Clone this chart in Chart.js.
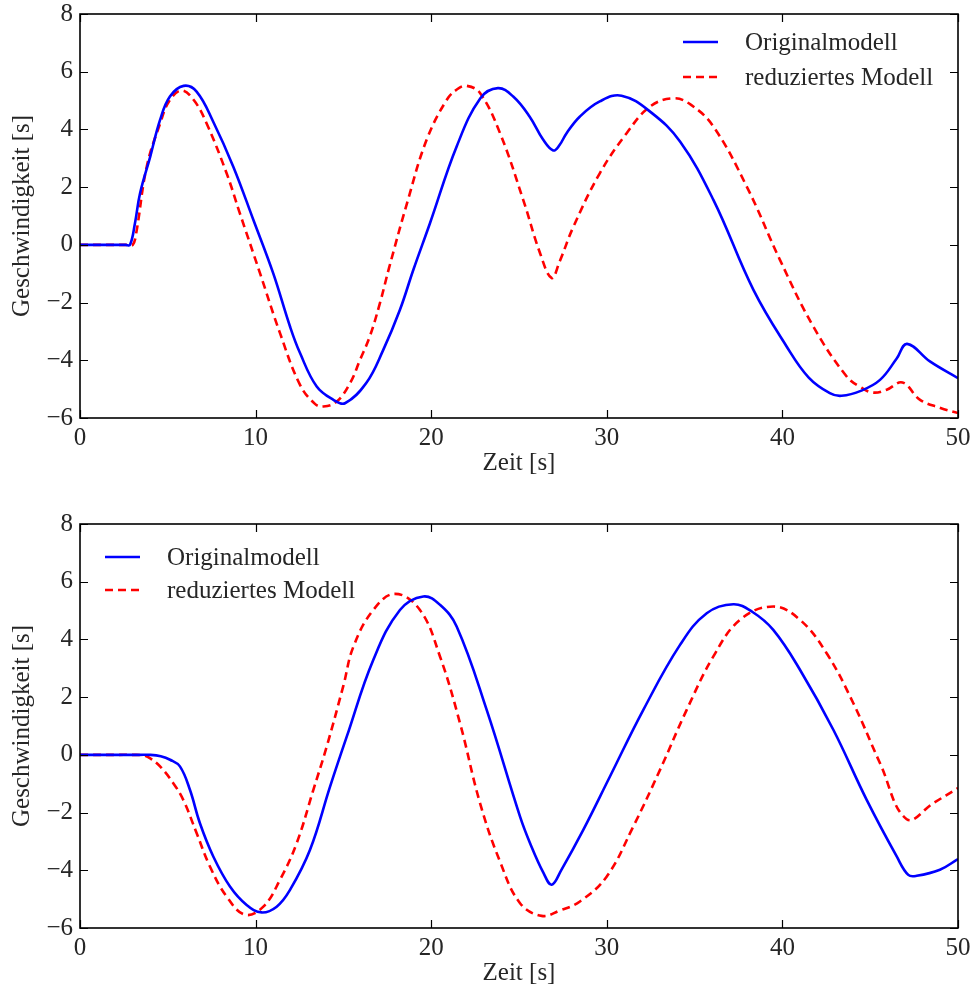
<!DOCTYPE html>
<html>
<head>
<meta charset="utf-8">
<script src="https://cdn.jsdelivr.net/npm/chart.js@4.4.0/dist/chart.umd.min.js"></script>
<style>
  html, body { margin: 0; padding: 0; background: #ffffff; }
  #wrap { position: relative; width: 977px; height: 990px; }
  .panel { position: absolute; left: 0; width: 977px; }
  #p1 { top: 0; height: 490px; }
  #p2 { top: 490px; height: 500px; }
</style>
</head>
<body>
<div id="wrap">
  <div class="panel" id="p1"><canvas id="c1" width="977" height="490"></canvas></div>
  <div class="panel" id="p2"><canvas id="c2" width="977" height="500"></canvas></div>
</div>
<script>
// Labels and ticks
const seriesNames = ['Originalmodell', 'reduziertes Modell'];
const xTitle = 'Zeit [s]';
const yTitle = 'Geschwindigkeit [s]';
const xTickValues = [0, 10, 20, 30, 40, 50];
const yTickValues = [-6, -4, -2, 0, 2, 4, 6, 8];

// Upper panel: original model
const topOrigTime  = [0, 1.5, 2.6, 2.85, 3.13, 3.42, 4.0, 4.56, 5.12, 5.9, 6.64, 7.6, 8.73, 9.87, 11.0, 11.96, 12.53, 13.48, 14.43, 15.09, 16.3, 17.27, 18.22, 18.98, 19.93, 21.45, 22.8, 23.8, 24.67, 25.6, 26.38, 26.95, 27.3, 27.71, 28.47, 29.6, 30.84, 32.5, 34.17, 36.07, 38.35, 40.24, 41.5, 42.7, 43.37, 44.5, 45.56, 46.5, 47.1, 48.4, 50];
const topOrigValue = [0, 0, 0, 0, 0.75, 1.79, 3.06, 4.33, 5.14, 5.51, 5.31, 4.25, 2.71, 0.87, -0.98, -2.83, -3.75, -4.91, -5.37, -5.49, -4.79, -3.64, -2.25, -0.87, 0.75, 3.41, 5.08, 5.43, 5.14, 4.45, 3.64, 3.27, 3.45, 3.87, 4.45, 4.97, 5.17, 4.6, 3.58, 1.56, -1.56, -3.52, -4.6, -5.14, -5.23, -5.05, -4.68, -3.95, -3.43, -4.04, -4.62];

// Upper panel: reduced model
const topRedTime  = [0, 1.5, 2.7, 3.0, 3.2, 3.8, 4.56, 5.1, 5.79, 6.5, 7.2, 8.35, 9.1, 10.25, 11.39, 12.53, 13.38, 13.86, 14.62, 15.38, 15.95, 16.5, 17.08, 17.6, 18.65, 19.74, 20.88, 21.5, 22.02, 22.78, 23.92, 25.24, 26.2, 26.86, 27.3, 28.1, 29.6, 31.13, 32.46, 33.79, 34.8, 36.07, 37.97, 39.86, 41.76, 43.66, 44.5, 45.18, 45.94, 46.84, 47.84, 49.0, 50];
const topRedValue = [0, 0, 0, 0, 0.4, 2.71, 4.2, 5.0, 5.35, 5.0, 4.22, 2.48, 1.1, -0.98, -3.06, -4.85, -5.51, -5.6, -5.43, -4.79, -3.98, -3.18, -2.02, -0.8, 1.5, 3.64, 5.02, 5.4, 5.51, 5.26, 3.87, 1.56, -0.29, -1.15, -0.6, 0.63, 2.48, 3.87, 4.79, 5.08, 4.85, 4.1, 2.02, -0.52, -2.83, -4.56, -4.95, -5.12, -5.02, -4.77, -5.37, -5.65, -5.83];

// Lower panel: original model
const botOrigTime  = [0, 2.0, 3.4, 4.0, 4.6, 5.13, 5.69, 6.26, 6.83, 7.59, 8.54, 9.49, 10.34, 11.2, 11.96, 13.1, 14.24, 15.19, 16.7, 18.22, 19.55, 20.5, 21.45, 23.16, 25.06, 25.63, 26.4, 26.86, 27.4, 28.66, 30.18, 32.08, 34.17, 35.69, 37.21, 38.3, 39.48, 41.0, 42.9, 44.8, 46.51, 47.17, 47.65, 48.97, 50];
const botOrigValue = [0, 0, 0, 0, -0.05, -0.17, -0.4, -1.21, -2.37, -3.52, -4.56, -5.2, -5.46, -5.26, -4.68, -3.29, -1.1, 0.63, 3.29, 5.02, 5.49, 5.2, 4.45, 1.56, -2.14, -3.06, -4.1, -4.5, -4.0, -2.6, -0.75, 1.56, 3.81, 4.91, 5.22, 4.95, 4.33, 2.95, 0.87, -1.56, -3.52, -4.16, -4.19, -3.98, -3.61];

// Lower panel: reduced model
const botRedTime  = [0, 2.0, 3.0, 3.6, 4.0, 4.56, 5.31, 5.88, 6.64, 7.4, 8.35, 9.4, 10.44, 11.39, 12.34, 13.29, 14.05, 15.0, 15.57, 16.7, 17.94, 19.36, 20.5, 21.64, 22.78, 23.92, 25.06, 26.29, 27.3, 28.47, 29.99, 31.51, 33.03, 34.55, 36.07, 37.59, 39.48, 41.0, 42.52, 44.04, 45.56, 47.08, 48.6, 50];
const botRedValue = [0, 0, 0, -0.02, -0.12, -0.4, -0.98, -1.56, -2.71, -3.87, -4.91, -5.54, -5.26, -4.33, -3.06, -1.21, 0.29, 2.4, 3.75, 5.02, 5.58, 5.02, 3.41, 1.1, -1.67, -3.7, -5.14, -5.58, -5.4, -5.08, -4.22, -2.48, -0.52, 1.56, 3.41, 4.68, 5.14, 4.68, 3.52, 1.79, -0.29, -2.23, -1.67, -1.15];

const FONT_FAMILY = '"Liberation Serif", "DejaVu Serif", serif';
const TEXT_COLOR = '#262626';
const BASE_FONT = { family: FONT_FAMILY, size: 25 };

function toPoints(times, values) {
  return times.map((t, i) => ({ x: t, y: values[i] }));
}

function fmtTick(v) {
  return String(v).replace('-', '\u2212');
}

// Frame around the plot area with inward tick marks on all four sides
const frameTicks = {
  id: 'frameTicks',
  afterDatasetsDraw(chart) {
    const { ctx, chartArea: a, scales: { x, y } } = chart;
    const len = 8;
    ctx.save();
    ctx.strokeStyle = '#000000';
    ctx.lineWidth = 1.2;
    ctx.beginPath();
    xTickValues.forEach(v => {
      const px = Math.round(x.getPixelForValue(v)) + 0.5;
      ctx.moveTo(px, a.bottom); ctx.lineTo(px, a.bottom - len);
      ctx.moveTo(px, a.top); ctx.lineTo(px, a.top + len);
    });
    yTickValues.forEach(v => {
      const py = Math.round(y.getPixelForValue(v)) + 0.5;
      ctx.moveTo(a.left, py); ctx.lineTo(a.left + len, py);
      ctx.moveTo(a.right, py); ctx.lineTo(a.right - len, py);
    });
    ctx.stroke();
    ctx.lineWidth = 1.6;
    ctx.strokeRect(a.left, a.top, a.right - a.left, a.bottom - a.top);
    ctx.restore();
  }
};

// Legend drawn inside the plot area
const innerLegend = {
  id: 'innerLegend',
  afterDraw(chart, args, opts) {
    const { ctx, chartArea: a } = chart;
    const base = opts.anchor === 'right' ? a.right : a.left;
    ctx.save();
    chart.data.datasets.forEach((ds, i) => {
      const yy = a.top + opts.rows[i];
      ctx.beginPath();
      ctx.strokeStyle = ds.borderColor;
      ctx.lineWidth = ds.borderWidth;
      ctx.setLineDash(ds.borderDash || []);
      ctx.moveTo(base + opts.lineStart, yy);
      ctx.lineTo(base + opts.lineEnd, yy);
      ctx.stroke();
      ctx.setLineDash([]);
      ctx.fillStyle = TEXT_COLOR;
      ctx.font = `${BASE_FONT.size}px ${FONT_FAMILY}`;
      ctx.textAlign = 'left';
      ctx.textBaseline = 'middle';
      ctx.fillText(ds.label, base + opts.textStart, yy + 1);
    });
    ctx.restore();
  }
};

function makeChart(canvasId, orig, red, cfg) {
  const ctx = document.getElementById(canvasId).getContext('2d');
  return new Chart(ctx, {
    type: 'line',
    data: {
      datasets: [
        {
          label: seriesNames[0],
          data: orig,
          borderColor: '#0000ff',
          borderWidth: 2.6,
          pointRadius: 0,
          tension: 0.4,
          fill: false
        },
        {
          label: seriesNames[1],
          data: red,
          borderColor: '#ff0000',
          borderWidth: 2.6,
          borderDash: [8, 5],
          borderCapStyle: 'butt',
          pointRadius: 0,
          tension: 0.4,
          fill: false
        }
      ]
    },
    options: {
      responsive: false,
      animation: false,
      events: [],
      layout: { padding: { top: cfg.top, right: 19, left: 0, bottom: 0 } },
      plugins: {
        legend: { display: false },
        tooltip: { enabled: false },
        innerLegend: cfg.legend
      },
      scales: {
        x: {
          type: 'linear',
          min: 0,
          max: 50,
          afterBuildTicks: s => { s.ticks = xTickValues.map(v => ({ value: v })); },
          afterFit: s => { s.height = cfg.xAxisHeight; s.paddingLeft = 0; s.paddingRight = 0; },
          grid: { display: false, drawTicks: false },
          border: { display: false },
          ticks: {
            padding: 5,
            maxRotation: 0,
            autoSkip: false,
            color: TEXT_COLOR,
            font: BASE_FONT,
            callback: v => fmtTick(v)
          },
          title: {
            display: true,
            text: xTitle,
            color: TEXT_COLOR,
            font: BASE_FONT,
            padding: { top: 0, bottom: cfg.xTitlePad }
          }
        },
        y: {
          type: 'linear',
          min: -6,
          max: 8,
          afterBuildTicks: s => { s.ticks = yTickValues.map(v => ({ value: v })); },
          afterFit: s => { s.width = 80; s.paddingTop = 0; s.paddingBottom = 0; },
          grid: { display: false, drawTicks: false },
          border: { display: false },
          ticks: {
            padding: 7,
            autoSkip: false,
            color: TEXT_COLOR,
            font: BASE_FONT,
            callback: v => fmtTick(v)
          },
          title: {
            display: true,
            text: yTitle,
            color: TEXT_COLOR,
            font: BASE_FONT,
            padding: { top: 7, bottom: 0 }
          }
        }
      }
    },
    plugins: [frameTicks, innerLegend]
  });
}

makeChart('c1', toPoints(topOrigTime, topOrigValue), toPoints(topRedTime, topRedValue), {
  top: 14,
  xAxisHeight: 72,
  xTitlePad: 12,
  legend: { anchor: 'right', lineStart: -275, lineEnd: -240, textStart: -213, rows: [28, 63] }
});

makeChart('c2', toPoints(botOrigTime, botOrigValue), toPoints(botRedTime, botRedValue), {
  top: 34,
  xAxisHeight: 62,
  xTitlePad: 2,
  legend: { anchor: 'left', lineStart: 25, lineEnd: 60, textStart: 87, rows: [33, 66] }
});
</script>
</body>
</html>
